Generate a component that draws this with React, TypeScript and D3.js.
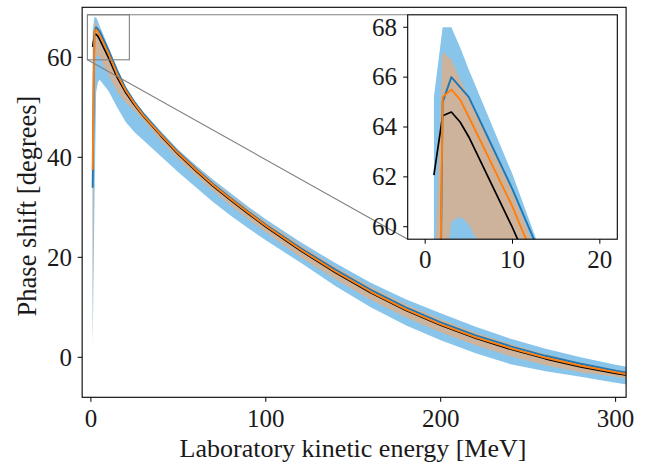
import React from "react";
import * as d3 from "d3";

// Energies [MeV]
const energies = [1, 2, 3, 4, 5, 10, 15, 20, 25, 30, 40, 50, 60, 70, 80, 90, 100, 120, 140, 160, 180, 200, 220, 240, 260, 280, 300, 310];

// Reference (black)
const refLine = [62.07, 64.45, 64.6, 64.2, 63.6, 59.96, 56.0, 52.9, 50.4, 48.2, 44.3, 40.6, 37.3, 34.2, 31.4, 28.7, 26.1, 21.3, 16.9, 12.9, 9.4, 6.4, 3.8, 1.6, -0.3, -1.9, -3.2, -3.8];
// Orange series
const orangeLine = [37.5, 65.2, 65.5, 65.1, 64.4, 60.8, 56.6, 53.3, 50.7, 48.4, 44.5, 40.8, 37.5, 34.4, 31.6, 28.9, 26.3, 21.5, 17.1, 13.1, 9.6, 6.6, 4.0, 1.8, -0.1, -1.7, -3.0, -3.6];
const orangeUpper = [57, 67.0, 66.7, 65.9, 65.2, 61.4, 57.0, 53.7, 51.0, 48.8, 44.9, 41.3, 38.1, 35.1, 32.3, 29.7, 27.1, 22.4, 18.0, 14.1, 10.6, 7.6, 4.9, 2.6, 0.6, -1.1, -2.5, -3.1];
const orangeLower = [3, 57.5, 60.2, 60.4, 60.1, 56.5, 53.2, 50.9, 49.3, 47.4, 43.3, 39.6, 36.3, 33.2, 30.3, 27.6, 25.0, 20.0, 15.6, 11.5, 8.0, 5.0, 2.4, 0.2, -1.6, -3.0, -3.9, -4.4];
// Blue series
const blueLine = [33.9, 65.0, 66.0, 65.6, 65.2, 61.5, 57.4, 53.7, 51.0, 48.7, 44.7, 41.0, 37.7, 34.6, 31.8, 29.1, 26.5, 21.8, 17.5, 13.5, 10.0, 7.0, 4.4, 2.2, 0.3, -1.3, -2.7, -3.3];
const blueUpper = [65.2, 68.0, 68.0, 67.2, 66.3, 62.1, 57.3, 54.0, 51.3, 49.1, 45.2, 41.5, 38.4, 35.5, 32.8, 30.1, 27.6, 23.0, 18.8, 14.9, 11.6, 8.8, 6.1, 3.7, 1.7, 0.0, -1.5, -2.1];
const blueLower = [2, 30, 53, 55, 55.5, 53.3, 50.0, 47.0, 45.0, 43.4, 40.2, 37.0, 34.0, 31.0, 28.3, 25.8, 23.4, 18.9, 14.2, 10.0, 6.4, 3.4, 0.8, -1.4, -2.8, -3.9, -5.1, -5.6];

const mainXTicks = [0, 100, 200, 300];
const mainYTicks = [0, 20, 40, 60];
const insetXTicks = [0, 10, 20];
const insetYTicks = [60, 62, 64, 66, 68];

const W = 647;
const H = 466;
const FONT = '"Liberation Serif", "Times New Roman", serif';

const mainBox = { left: 82.15, right: 626.1, top: 7.3, bottom: 397.3 };
const insetBox = { left: 407.7, right: 617.3, top: 14.8, bottom: 239.2 };

const C_BLUE = "#1f77b4";
const C_ORANGE = "#ff7f0e";
const C_BLUE_BAND = "#89c4ea";
const C_TAN_BAND = "#cdb39b";
const TXT = "#1a1a1a";

type Sc = d3.ScaleLinear<number, number>;

function Series({ x, y, clip }: { x: Sc; y: Sc; clip: string }) {
  const idx = energies.map((_, i) => i);
  const area = (lo: number[], hi: number[]) =>
    d3
      .area<number>()
      .x((i) => x(energies[i]))
      .y0((i) => y(lo[i]))
      .y1((i) => y(hi[i]))(idx) || "";
  const line = (v: number[]) =>
    d3
      .line<number>()
      .x((i) => x(energies[i]))
      .y((i) => y(v[i]))(idx) || "";
  return (
    <g clipPath={`url(#${clip})`}>
      <path d={area(blueLower, blueUpper)} fill={C_BLUE_BAND} />
      <path d={area(orangeLower, orangeUpper)} fill={C_TAN_BAND} />
      <path d={line(refLine)} fill="none" stroke="#000" strokeWidth={1.7} strokeLinejoin="round" />
      <path d={line(blueLine)} fill="none" stroke={C_BLUE} strokeWidth={1.9} strokeLinejoin="round" />
      <path d={line(orangeLine)} fill="none" stroke={C_ORANGE} strokeWidth={1.9} strokeLinejoin="round" />
    </g>
  );
}

export default function App() {
  const x = d3.scaleLinear().domain([-5, 306]).range([mainBox.left, mainBox.right]);
  const y = d3.scaleLinear().domain([-8, 70]).range([mainBox.bottom, mainBox.top]);
  const ix = d3.scaleLinear().domain([-2, 22]).range([insetBox.left, insetBox.right]);
  const iy = d3.scaleLinear().domain([59.5, 68.5]).range([insetBox.bottom, insetBox.top]);

  const [ix0, ix1] = ix.domain();
  const [iy0, iy1] = iy.domain();
  const rx0 = x(ix0), rx1 = x(ix1), ry0 = y(iy1), ry1 = y(iy0);

  return (
    <svg width={W} height={H} style={{ position: "absolute", left: 0, top: 0, background: "#fff", fontFamily: FONT }}>
      <defs>
        <clipPath id="mainClip">
          <rect x={mainBox.left} y={mainBox.top} width={mainBox.right - mainBox.left} height={mainBox.bottom - mainBox.top} />
        </clipPath>
        <clipPath id="insetClip">
          <rect x={insetBox.left} y={insetBox.top} width={insetBox.right - insetBox.left} height={insetBox.bottom - insetBox.top} />
        </clipPath>
      </defs>
      <rect x={0} y={0} width={W} height={H} fill="#fff" />

      {/* main plot */}
      <Series x={x} y={y} clip="mainClip" />

      {/* indicator + connectors */}
      <g stroke="#808080" strokeWidth={1.1} fill="none" clipPath="url(#mainClip)">
        <rect x={rx0} y={ry0} width={rx1 - rx0} height={ry1 - ry0} />
        <line x1={rx0} y1={ry0} x2={insetBox.left} y2={insetBox.top} />
        <line x1={rx0} y1={ry1} x2={insetBox.left} y2={insetBox.bottom} />
      </g>

      {/* main frame */}
      <rect x={mainBox.left} y={mainBox.top} width={mainBox.right - mainBox.left} height={mainBox.bottom - mainBox.top} fill="none" stroke="#000" strokeWidth={1.1} />

      {/* main ticks */}
      {mainXTicks.map((t) => (
        <g key={"mx" + t}>
          <line x1={x(t)} x2={x(t)} y1={mainBox.bottom} y2={mainBox.bottom + 4.5} stroke="#000" strokeWidth={1} />
          <text x={x(t)} y={427} textAnchor="middle" fontSize={25} fill={TXT} style={{ fontFamily: FONT }}>{t}</text>
        </g>
      ))}
      {mainYTicks.map((t) => (
        <g key={"my" + t}>
          <line x1={mainBox.left - 4.5} x2={mainBox.left} y1={y(t)} y2={y(t)} stroke="#000" strokeWidth={1} />
          <text x={72} y={y(t) + 8.5} textAnchor="end" fontSize={25} fill={TXT} style={{ fontFamily: FONT }}>{t}</text>
        </g>
      ))}

      {/* axis labels */}
      <text x={353} y={456.5} textAnchor="middle" fontSize={26} fill={TXT} style={{ fontFamily: FONT }}>
        Laboratory kinetic energy [MeV]
      </text>
      <text transform="translate(36,206) rotate(-90)" textAnchor="middle" fontSize={26.5} fill={TXT} style={{ fontFamily: FONT }}>
        Phase shift [degrees]
      </text>

      {/* inset */}
      <rect x={insetBox.left} y={insetBox.top} width={insetBox.right - insetBox.left} height={insetBox.bottom - insetBox.top} fill="#fff" />
      <Series x={ix} y={iy} clip="insetClip" />
      <rect x={insetBox.left} y={insetBox.top} width={insetBox.right - insetBox.left} height={insetBox.bottom - insetBox.top} fill="none" stroke="#000" strokeWidth={1.1} />
      {insetXTicks.map((t) => (
        <g key={"ix" + t}>
          <line x1={ix(t)} x2={ix(t)} y1={insetBox.bottom} y2={insetBox.bottom + 4.5} stroke="#000" strokeWidth={1} />
          <text x={ix(t)} y={268} textAnchor="middle" fontSize={25} fill={TXT} style={{ fontFamily: FONT }}>{t}</text>
        </g>
      ))}
      {insetYTicks.map((t) => (
        <g key={"iy" + t}>
          <line x1={insetBox.left - 4.5} x2={insetBox.left} y1={iy(t)} y2={iy(t)} stroke="#000" strokeWidth={1} />
          <text x={397} y={iy(t) + 8.3} textAnchor="end" fontSize={25} fill={TXT} style={{ fontFamily: FONT }}>{t}</text>
        </g>
      ))}
    </svg>
  );
}
